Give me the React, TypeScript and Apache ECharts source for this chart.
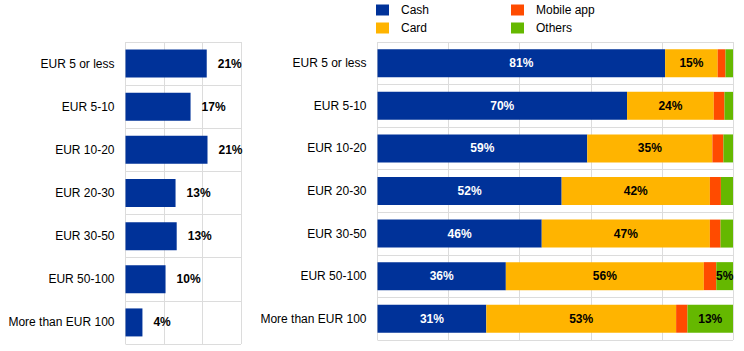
import React, { useEffect, useRef } from "react";
import * as echarts from "echarts";

const categories = [
  "EUR 5 or less",
  "EUR 5-10",
  "EUR 10-20",
  "EUR 20-30",
  "EUR 30-50",
  "EUR 50-100",
  "More than EUR 100",
];
const shareOfPurchases = [21.1, 16.9, 21.3, 13.0, 13.3, 10.4, 4.4];
const cash = [80.9, 70.2, 59.0, 51.8, 46.2, 36.1, 30.6];
const card = [14.8, 24.4, 35.2, 41.7, 47.3, 55.7, 53.4];
const mobileApp = [2.2, 3.0, 3.1, 3.1, 3.0, 3.5, 3.2];
const others = [2.1, 2.4, 2.7, 3.4, 3.5, 4.7, 12.8];

const FONT = "Liberation Sans, Arial, sans-serif";
const GRID_COLOR = "#dcdcdc";
const COLORS = { cash: "#003299", card: "#ffb400", mobile: "#ff4b00", others: "#65b800" };

export default function App() {
  const ref = useRef<HTMLDivElement>(null);
  useEffect(() => {
    if (!ref.current) return;
    const chart = echarts.init(ref.current, null, { renderer: "svg" });
    const pct = (p: any) => `${Math.round(p.value)}%`;
    const labelStyle = (color: string, minShow = 0) => ({
      show: true,
      position: "inside",
      color,
      fontFamily: FONT,
      fontWeight: "bold",
      fontSize: 12,
      formatter: (p: any) => (p.value >= minShow ? `${Math.round(p.value)}%` : ""),
    });
    const yAxisBase = (gridIndex: number) => ({
      type: "category",
      gridIndex,
      data: categories,
      inverse: true,
      axisLine: { show: false },
      axisTick: { show: false },
      axisLabel: { color: "#000", fontFamily: FONT, fontSize: 12, margin: 11 },
      splitLine: { show: true, lineStyle: { color: GRID_COLOR, width: 1 } },
    });
    const xAxisBase = (gridIndex: number, max: number, interval: number) => ({
      type: "value",
      gridIndex,
      min: 0,
      max,
      interval,
      axisLabel: { show: false },
      axisLine: { show: false },
      axisTick: { show: false },
      splitLine: { show: true, lineStyle: { color: GRID_COLOR, width: 1 } },
    });
    chart.setOption({
      animation: false,
      textStyle: { fontFamily: FONT },
      legend: [
        {
          orient: "vertical",
          left: 376,
          top: 4,
          itemWidth: 13,
          itemHeight: 11,
          itemGap: 6,
          icon: "rect",
          data: ["Cash", "Card"],
          textStyle: { color: "#000", fontSize: 12, fontFamily: FONT, padding: [0, 0, 0, 7] },
          padding: 0,
        },
        {
          orient: "vertical",
          left: 511,
          top: 4,
          itemWidth: 13,
          itemHeight: 11,
          itemGap: 6,
          icon: "rect",
          data: ["Mobile app", "Others"],
          textStyle: { color: "#000", fontSize: 12, fontFamily: FONT, padding: [0, 0, 0, 7] },
          padding: 0,
        },
      ],
      grid: [
        { left: 125.5, top: 42, width: 115.5, height: 302 },
        { left: 377.5, top: 42, width: 355.5, height: 298 },
      ],
      xAxis: [xAxisBase(0, 30, 10), xAxisBase(1, 100, 20)],
      yAxis: [yAxisBase(0), yAxisBase(1)],
      series: [
        {
          type: "bar",
          xAxisIndex: 0,
          yAxisIndex: 0,
          data: shareOfPurchases,
          barWidth: 28,
          itemStyle: { color: COLORS.cash },
          label: {
            show: true,
            position: "right",
            distance: 11,
            color: "#000",
            fontFamily: FONT,
            fontWeight: "bold",
            fontSize: 12,
            formatter: pct,
          },
        },
        {
          name: "Cash",
          type: "bar",
          stack: "total",
          xAxisIndex: 1,
          yAxisIndex: 1,
          data: cash,
          barWidth: 28,
          itemStyle: { color: COLORS.cash },
          label: labelStyle("#fff"),
        },
        {
          name: "Card",
          type: "bar",
          stack: "total",
          xAxisIndex: 1,
          yAxisIndex: 1,
          data: card,
          barWidth: 28,
          itemStyle: { color: COLORS.card },
          label: labelStyle("#000"),
        },
        {
          name: "Mobile app",
          type: "bar",
          stack: "total",
          xAxisIndex: 1,
          yAxisIndex: 1,
          data: mobileApp,
          barWidth: 28,
          itemStyle: { color: COLORS.mobile },
          label: { show: false },
        },
        {
          name: "Others",
          type: "bar",
          stack: "total",
          xAxisIndex: 1,
          yAxisIndex: 1,
          data: others,
          barWidth: 28,
          itemStyle: { color: COLORS.others },
          label: labelStyle("#000", 4.5),
        },
      ],
    });
    return () => chart.dispose();
  }, []);
  return (
    <div
      ref={ref}
      style={{ position: "absolute", left: 0, top: 0, width: 744, height: 351, background: "#fff" }}
    />
  );
}
